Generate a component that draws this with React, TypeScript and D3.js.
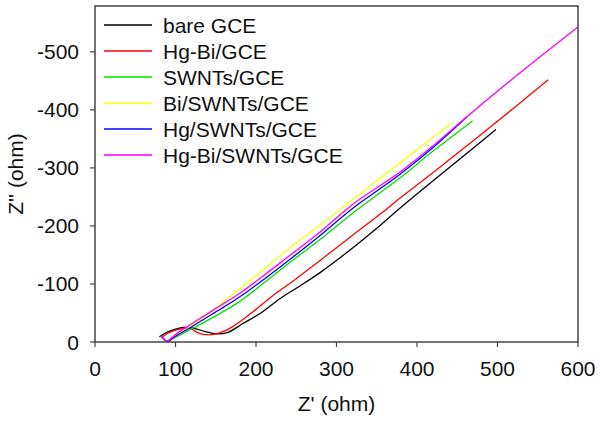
import * as d3 from "d3";

// Nyquist data: [Z' (ohm), Z'' (ohm)]
const bareGCE: [number, number][] = [
  [80, -9], [90, -17], [100, -22], [110, -25], [122, -24], [137, -18], [151, -14],
  [164, -16], [184, -32], [205, -49], [230, -75], [255, -97], [280, -120], [320, -162],
  [350, -196], [379, -231], [420, -278], [460, -323], [498, -366],
];
const hgBiGCE: [number, number][] = [
  [84, -9], [92, -16], [105, -22], [118, -24], [126, -17], [135, -13], [147, -13],
  [164, -21], [180, -35], [197, -53], [220, -79], [250, -109], [280, -141], [320, -184],
  [354, -220], [379, -248], [430, -303], [480, -358], [528, -412], [563, -452],
];
const swntsGCE: [number, number][] = [
  [82, -10], [87, -3], [90, -1], [100, -8], [115, -19], [130, -30], [155, -49],
  [180, -70], [210, -102], [240, -135], [280, -177], [320, -222], [379, -283],
  [420, -329], [469, -381],
];
const biSwntsGCE: [number, number][] = [
  [83, -8], [88, -2], [92, 0], [100, -10], [115, -24], [130, -38], [155, -64],
  [180, -92], [210, -125], [240, -160], [280, -202], [320, -245], [354, -282],
  [371, -300], [410, -342], [443, -377],
];
const hgSwntsGCE: [number, number][] = [
  [83, -9], [88, -2], [91, -1], [100, -10], [115, -22], [130, -35], [155, -56],
  [180, -78], [210, -108], [240, -140], [280, -184], [320, -230], [379, -289],
  [420, -335], [462, -388],
];
const hgBiSwntsGCE: [number, number][] = [
  [82, -10], [87, -3], [90, -2], [100, -13], [115, -27], [130, -40], [155, -62],
  [180, -84], [210, -115], [240, -147], [280, -190], [320, -237], [379, -293],
  [420, -338], [462, -388], [528, -464], [600, -543],
];

const seriesNames = [
  "bare GCE",
  "Hg-Bi/GCE",
  "SWNTs/GCE",
  "Bi/SWNTs/GCE",
  "Hg/SWNTs/GCE",
  "Hg-Bi/SWNTs/GCE",
];
const seriesData = [bareGCE, hgBiGCE, swntsGCE, biSwntsGCE, hgSwntsGCE, hgBiSwntsGCE];
const seriesColors = ["#000000", "#ff0000", "#00e000", "#ffff00", "#0000ff", "#ff00ff"];

const xTicks = [0, 100, 200, 300, 400, 500, 600];
const yTicks = [0, -100, -200, -300, -400, -500];

const W = 600;
const H = 426;
const left = 95;
const right = 578;
const top = 6;
const bottom = 342;
const font = "Liberation Sans, Arial, sans-serif";
const axisColor = "#444";
const fs = 21;

export default function App() {
  const x = d3.scaleLinear().domain([0, 600]).range([left, right]);
  const y = d3.scaleLinear().domain([0, -579]).range([bottom, top]);
  const line = d3
    .line<[number, number]>()
    .x((d) => x(d[0]))
    .y((d) => y(d[1]))
    .curve(d3.curveCatmullRom);

  return (
    <svg
      width={W}
      height={H}
      style={{ position: "absolute", left: 0, top: 0, background: "#fff" }}
      fontFamily={font}
    >
      <rect x={0} y={0} width={W} height={H} fill="#fff" />
      {seriesData.map((s, i) => (
        <path
          key={seriesNames[i]}
          d={line(s) ?? ""}
          fill="none"
          stroke={seriesColors[i]}
          strokeWidth={1.3}
        />
      ))}

      {/* frame */}
      <rect
        x={left}
        y={top}
        width={right - left}
        height={bottom - top}
        fill="none"
        stroke={axisColor}
        strokeWidth={1.5}
      />

      {/* x ticks */}
      {xTicks.map((t) => (
        <g key={"x" + t}>
          <line x1={x(t)} x2={x(t)} y1={bottom} y2={bottom + 5} stroke={axisColor} strokeWidth={1.2} />
          <text x={x(t)} y={376} textAnchor="middle" fontSize={fs} fill="#111">
            {t}
          </text>
        </g>
      ))}

      {/* y ticks */}
      {yTicks.map((t) => (
        <g key={"y" + t}>
          <line x1={left - 5} x2={left} y1={y(t)} y2={y(t)} stroke={axisColor} strokeWidth={1.2} />
          <text x={79} y={y(t) + 7.5} textAnchor="end" fontSize={fs} fill="#111">
            {t}
          </text>
        </g>
      ))}

      <text x={(left + right) / 2} y={411} textAnchor="middle" fontSize={fs} fill="#111">
        Z' (ohm)
      </text>
      <text
        transform={`translate(23, ${(top + bottom) / 2}) rotate(-90)`}
        textAnchor="middle"
        fontSize={fs}
        fill="#111"
      >
        Z'' (ohm)
      </text>

      {/* legend */}
      {seriesNames.map((name, i) => {
        const ly = 25 + i * 26;
        return (
          <g key={"l" + name}>
            <line x1={104} x2={152} y1={ly} y2={ly} stroke={seriesColors[i]} strokeWidth={1.3} />
            <text x={163} y={ly + 7.5} fontSize={fs} fill="#111">
              {name}
            </text>
          </g>
        );
      })}
    </svg>
  );
}
